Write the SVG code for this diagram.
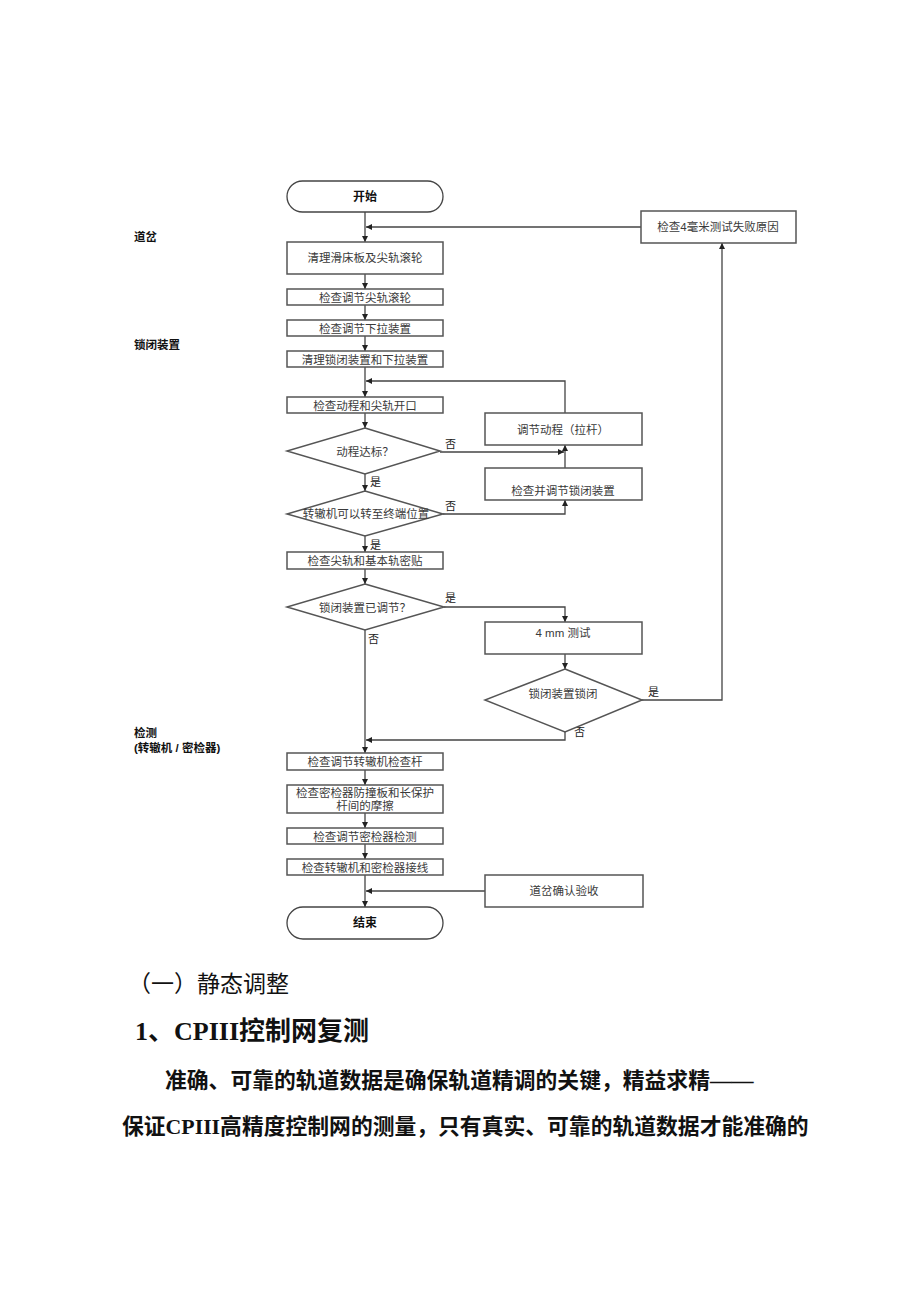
<svg xmlns="http://www.w3.org/2000/svg" width="920" height="1302" viewBox="0 0 920 1302">
<defs>
<marker id="ah" viewBox="0 0 10 10" refX="10" refY="5" markerWidth="6" markerHeight="6" markerUnits="userSpaceOnUse" orient="auto">
<path d="M0,0 L10,5 L0,10 z" fill="#222"/>
</marker>
<style>
.box{fill:#fff;stroke:#555;stroke-width:1.5}
.term{fill:#fff;stroke:#444;stroke-width:1.3}
.t{font-family:"Liberation Sans","Noto Sans CJK SC",sans-serif;font-size:11.5px;fill:#3a3a3a;text-anchor:middle}
.tb{font-family:"Liberation Sans","Noto Sans CJK SC",sans-serif;font-size:12px;font-weight:bold;fill:#111;text-anchor:middle}
.lab{font-family:"Liberation Sans","Noto Sans CJK SC",sans-serif;font-size:11.5px;font-weight:bold;fill:#111}
.yn{font-family:"Liberation Serif","Noto Sans CJK SC",serif;font-size:11px;fill:#222}
.ln{fill:none;stroke:#444;stroke-width:1.3}
.body{font-family:"Liberation Serif","Noto Sans CJK SC",serif;fill:#111}
</style>
</defs>
<rect width="920" height="1302" fill="#fff"/>

<g id="connectors">
<line class="ln" x1="365" y1="212" x2="365" y2="242" marker-end="url(#ah)"/>
<line class="ln" x1="641" y1="227" x2="366" y2="227" marker-end="url(#ah)"/>
<line class="ln" x1="365" y1="274" x2="365" y2="289" marker-end="url(#ah)"/>
<line class="ln" x1="365" y1="305" x2="365" y2="320" marker-end="url(#ah)"/>
<line class="ln" x1="365" y1="336" x2="365" y2="351" marker-end="url(#ah)"/>
<line class="ln" x1="365" y1="367" x2="365" y2="397" marker-end="url(#ah)"/>
<polyline class="ln" points="565,413 565,381 366,381" marker-end="url(#ah)"/>
<line class="ln" x1="365" y1="413" x2="365" y2="428" marker-end="url(#ah)"/>
<line class="ln" x1="365" y1="474" x2="365" y2="491" marker-end="url(#ah)"/>
<line class="ln" x1="440" y1="452" x2="564" y2="452" marker-end="url(#ah)"/>
<line class="ln" x1="565" y1="468" x2="565" y2="445" marker-end="url(#ah)"/>
<polyline class="ln" points="443,514 565,514 565,500" marker-end="url(#ah)"/>
<line class="ln" x1="365" y1="536" x2="365" y2="552" marker-end="url(#ah)"/>
<line class="ln" x1="365" y1="569" x2="365" y2="584" marker-end="url(#ah)"/>
<polyline class="ln" points="444,607 565,607 565,622" marker-end="url(#ah)"/>
<line class="ln" x1="365" y1="630" x2="365" y2="753" marker-end="url(#ah)"/>
<line class="ln" x1="565" y1="654" x2="565" y2="669" marker-end="url(#ah)"/>
<polyline class="ln" points="642,700 722,700 722,243" marker-end="url(#ah)"/>
<polyline class="ln" points="565,732 565,740 366,740" marker-end="url(#ah)"/>
<line class="ln" x1="365" y1="770" x2="365" y2="785" marker-end="url(#ah)"/>
<line class="ln" x1="365" y1="813" x2="365" y2="828" marker-end="url(#ah)"/>
<line class="ln" x1="365" y1="844" x2="365" y2="859" marker-end="url(#ah)"/>
<line class="ln" x1="365" y1="875" x2="365" y2="907" marker-end="url(#ah)"/>
<line class="ln" x1="485" y1="891" x2="366" y2="891" marker-end="url(#ah)"/>
<text class="yn" x="445" y="448">否</text>
<text class="yn" x="445" y="510">否</text>
<text class="yn" x="370" y="486">是</text>
<text class="yn" x="370" y="549">是</text>
<text class="yn" x="445" y="602">是</text>
<text class="yn" x="368" y="643">否</text>
<text class="yn" x="648" y="696">是</text>
<text class="yn" x="574" y="736">否</text>
</g>

<g id="labels">
<text class="lab" x="134" y="241">道岔</text>
<text class="lab" x="134" y="349">锁闭装置</text>
<text class="lab" x="134" y="737">检测</text>
<text class="lab" x="134" y="752">(转辙机 / 密检器)</text>
</g>

<g id="start"><rect class="term" x="287" y="181" width="156" height="31" rx="15.5"/><text class="tb" x="365" y="201">开始</text></g>
<g id="n1"><rect class="box" x="287" y="242" width="156" height="32"/><text class="t" x="365" y="262">清理滑床板及尖轨滚轮</text></g>
<g id="n2"><rect class="box" x="287" y="289" width="156" height="16"/><text class="t" x="365" y="302">检查调节尖轨滚轮</text></g>
<g id="n3"><rect class="box" x="287" y="320" width="156" height="16"/><text class="t" x="365" y="333">检查调节下拉装置</text></g>
<g id="n4"><rect class="box" x="287" y="351" width="156" height="16"/><text class="t" x="365" y="364">清理锁闭装置和下拉装置</text></g>
<g id="n5"><rect class="box" x="287" y="397" width="156" height="16"/><text class="t" x="365" y="410">检查动程和尖轨开口</text></g>
<g id="d1"><polygon class="box" points="365,428 440,451 365,474 287,451"/><text class="t" x="365" y="456">动程达标？</text></g>
<g id="adj1"><rect class="box" x="485" y="413" width="157" height="32"/><text class="t" x="563" y="434">调节动程（拉杆）</text></g>
<g id="adj2"><rect class="box" x="485" y="468" width="157" height="32"/><text class="t" x="563" y="495">检查并调节锁闭装置</text></g>
<g id="d2"><polygon class="box" points="365,491 443,514 365,536 287,514"/><text class="t" x="366" y="518">转辙机可以转至终端位置</text></g>
<g id="n6"><rect class="box" x="287" y="552" width="156" height="17"/><text class="t" x="365" y="565">检查尖轨和基本轨密贴</text></g>
<g id="d3"><polygon class="box" points="365,584 444,607 365,630 287,607"/><text class="t" x="365" y="612">锁闭装置已调节？</text></g>
<g id="mm"><rect class="box" x="485" y="622" width="157" height="32"/><text class="t" x="563" y="637">4 mm 测试</text></g>
<g id="d4"><polygon class="box" points="565,669 642,700 565,732 485,700"/><text class="t" x="563" y="698">锁闭装置锁闭</text></g>
<g id="fail"><rect class="box" x="641" y="211" width="155" height="32"/><text class="t" x="718" y="231">检查4毫米测试失败原因</text></g>
<g id="n7"><rect class="box" x="287" y="753" width="156" height="17"/><text class="t" x="365" y="766">检查调节转辙机检查杆</text></g>
<g id="n8"><rect class="box" x="287" y="785" width="156" height="28"/><text class="t" x="365" y="797">检查密检器防撞板和长保护</text><text class="t" x="365" y="810">杆间的摩擦</text></g>
<g id="n9"><rect class="box" x="287" y="828" width="156" height="16"/><text class="t" x="365" y="841">检查调节密检器检测</text></g>
<g id="n10"><rect class="box" x="287" y="859" width="156" height="16"/><text class="t" x="365" y="872">检查转辙机和密检器接线</text></g>
<g id="acc"><rect class="box" x="485" y="875" width="158" height="32"/><text class="t" x="564" y="895">道岔确认验收</text></g>
<g id="end"><rect class="term" x="287" y="907" width="156" height="32" rx="16"/><text class="tb" x="365" y="927">结束</text></g>

<g id="body">
<text class="body" x="128" y="992" font-size="23">（一）静态调整</text>
<text class="body" x="135" y="1040" font-size="26" font-weight="bold">1、CPIII控制网复测</text>
<text class="body" x="165" y="1088" font-size="21.8" font-weight="bold">准确、可靠的轨道数据是确保轨道精调的关键，精益求精——</text>
<text class="body" x="122" y="1134" font-size="21.8" font-weight="bold">保证CPIII高精度控制网的测量，只有真实、可靠的轨道数据才能准确的</text>
</g>
</svg>
